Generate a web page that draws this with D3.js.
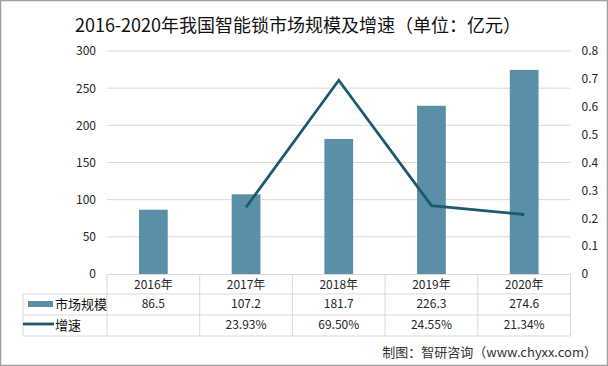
<!DOCTYPE html>
<html><head><meta charset="utf-8">
<script src="https://cdn.jsdelivr.net/npm/d3@7/dist/d3.min.js"></script>
<style>body{margin:0;background:#fff}svg{display:block}text{font-family:"Noto Sans CJK SC","Noto Sans",sans-serif}</style>
</head><body><svg id="c" width="608" height="366"></svg>
<script>
const categories = ["2016年","2017年","2018年","2019年","2020年"];
const marketSize = [86.5,107.2,181.7,226.3,274.6];
const growth = [null,0.2393,0.6950,0.2455,0.2134];
const growthLabels = ["","23.93%","69.50%","24.55%","21.34%"];
const leftTicks = [0,50,100,150,200,250,300];
const rightTicks = [0,0.1,0.2,0.3,0.4,0.5,0.6,0.7,0.8];

const svg = d3.select("#c");
const W=608,H=366;
const L=107,R=570.5,T=51,B=274;
const barColor="#5b8ea7", lineColor="#1b5a6d", grid="#d9d9d9", txt="#262626";

svg.append("rect").attr("x",0.5).attr("y",0.5).attr("width",W-1).attr("height",H-1).attr("fill","#fff").attr("stroke","#a0a0a0").attr("stroke-width",1.5);

svg.append("text").attr("x",298).attr("y",32).attr("text-anchor","middle").attr("font-size",18).attr("fill","#111")
  .text("2016-2020年我国智能锁市场规模及增速（单位：亿元）");

const x = d3.scaleBand().domain(categories).range([L,R]).paddingInner(0.69).paddingOuter(0.345);
const step = x.step();
const yL = d3.scaleLinear().domain([0,300]).range([B,T]);
const yR = d3.scaleLinear().domain([0,0.8]).range([B,T]);

// gridlines
svg.append("g").selectAll("line").data(leftTicks.slice(1)).join("line")
  .attr("x1",L).attr("x2",R).attr("y1",d=>yL(d)).attr("y2",d=>yL(d)).attr("stroke",grid).attr("stroke-width",1);

// left axis labels
const axL = d3.axisLeft(yL).tickValues(leftTicks).tickSize(0).tickPadding(11);
const gL = svg.append("g").attr("transform",`translate(${L},0)`).call(axL);
gL.select(".domain").remove();
gL.selectAll("text").attr("font-size",12).attr("fill",txt).attr("font-family","'Noto Sans',sans-serif");

const axR = d3.axisRight(yR).tickValues(rightTicks).tickSize(0).tickPadding(11).tickFormat(d=>d===0?"0":d3.format(".1f")(d));
const gR = svg.append("g").attr("transform",`translate(${R},0)`).call(axR);
gR.select(".domain").remove();
gR.selectAll("text").attr("font-size",12).attr("fill",txt).attr("font-family","'Noto Sans',sans-serif");

// bars
svg.append("g").selectAll("rect").data(marketSize).join("rect")
  .attr("x",(d,i)=>x(categories[i])).attr("width",x.bandwidth())
  .attr("y",d=>yL(d)).attr("height",d=>B-yL(d)).attr("fill",barColor);

// line
const pts = growth.map((g,i)=>({g,c:categories[i]})).filter(p=>p.g!=null);
svg.append("path").datum(pts)
  .attr("d",d3.line().x(p=>x(p.c)+x.bandwidth()/2).y(p=>yR(p.g)))
  .attr("fill","none").attr("stroke",lineColor).attr("stroke-width",2.8).attr("stroke-linejoin","miter");

// table
const tTop=294, tMid=315, tBot=336, tLeft=23;
const tg = svg.append("g").attr("stroke",grid).attr("stroke-width",1);
tg.append("line").attr("x1",L).attr("x2",R).attr("y1",B+0.5).attr("y2",B+0.5);
[tTop,tMid,tBot].forEach(y=>tg.append("line").attr("x1",tLeft).attr("x2",R).attr("y1",y).attr("y2",y));
tg.append("line").attr("x1",tLeft).attr("x2",tLeft).attr("y1",tTop).attr("y2",tBot);
const bounds = categories.map(c=>x(c)-(step-x.bandwidth())/2).concat([R]);
bounds.forEach(b=>tg.append("line").attr("x1",b).attr("x2",b).attr("y1",B).attr("y2",tBot));

svg.append("g").selectAll("text").data(categories).join("text")
  .attr("x",c=>x(c)+x.bandwidth()/2).attr("y",289).attr("text-anchor","middle")
  .attr("font-size",12).attr("fill",txt).text(c=>c);
svg.append("g").selectAll("text").data(marketSize).join("text")
  .attr("x",(d,i)=>x(categories[i])+x.bandwidth()/2).attr("y",308).attr("text-anchor","middle")
  .attr("font-size",12).attr("fill",txt).attr("font-family","'Noto Sans',sans-serif").text(d=>d);
svg.append("g").selectAll("text").data(growthLabels).join("text")
  .attr("x",(d,i)=>x(categories[i])+x.bandwidth()/2).attr("y",329).attr("text-anchor","middle")
  .attr("font-size",12).attr("fill",txt).attr("font-family","'Noto Sans',sans-serif").text(d=>d);

// legend
svg.append("rect").attr("x",28).attr("y",301).attr("width",25).attr("height",6).attr("fill",barColor);
svg.append("text").attr("x",55).attr("y",309).attr("font-size",13).attr("fill","#111").text("市场规模");
svg.append("line").attr("x1",23).attr("x2",54).attr("y1",324).attr("y2",324).attr("stroke",lineColor).attr("stroke-width",2.8);
svg.append("text").attr("x",55).attr("y",330).attr("font-size",13).attr("fill","#111").text("增速");

svg.append("text").attr("x",597).attr("y",357).attr("text-anchor","end").attr("font-size",13).attr("fill","#333")
  .text("制图：智研咨询（www.chyxx.com）");
</script></body></html>
